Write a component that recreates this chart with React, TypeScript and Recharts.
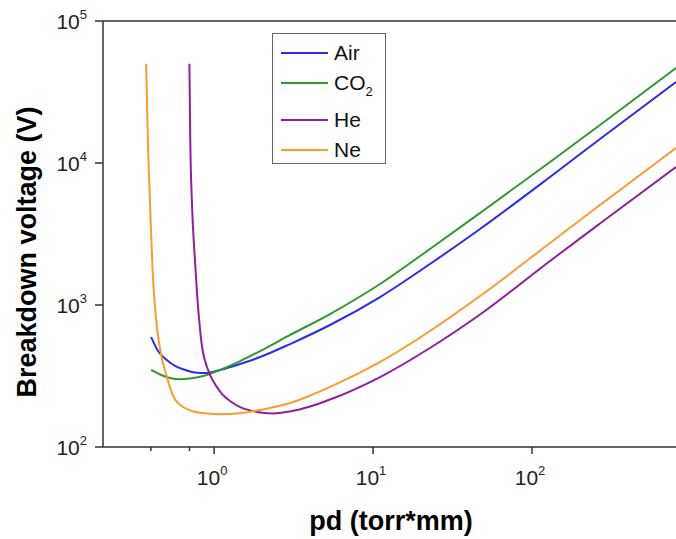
import React from "react"
import {
  Label,
  Legend,
  Line,
  LineChart,
  ReferenceLine,
  XAxis,
  YAxis
} from "recharts"

// pd (torr*mm) vs breakdown voltage (V)
const air = [
  { pd: 0.402, v: 595 },
  { pd: 0.444, v: 474 },
  { pd: 0.504, v: 410 },
  { pd: 0.568, v: 372 },
  { pd: 0.657, v: 349 },
  { pd: 0.759, v: 335 },
  { pd: 0.878, v: 332 },
  { pd: 1.09, v: 349 },
  { pd: 1.457, v: 384 },
  { pd: 1.947, v: 430 },
  { pd: 3.006, v: 531 },
  { pd: 5.36, v: 723 },
  { pd: 11.07, v: 1138 },
  { pd: 22.8, v: 1944 },
  { pd: 47.1, v: 3430 },
  { pd: 129.8, v: 7970 },
  { pd: 267.7, v: 14760 },
  { pd: 805, v: 37200 }
]

const co2 = [
  { pd: 0.402, v: 349 },
  { pd: 0.4575, v: 324 },
  { pd: 0.529, v: 306 },
  { pd: 0.611, v: 300 },
  { pd: 0.706, v: 304 },
  { pd: 0.878, v: 319 },
  { pd: 1.09, v: 349 },
  { pd: 1.457, v: 403 },
  { pd: 1.947, v: 474 },
  { pd: 3.006, v: 615 },
  { pd: 5.36, v: 864 },
  { pd: 11.07, v: 1406 },
  { pd: 22.8, v: 2480 },
  { pd: 47.1, v: 4445 },
  { pd: 129.8, v: 10160 },
  { pd: 267.7, v: 18520 },
  { pd: 805, v: 46670 }
]

const he = [
  { pd: 0.699, v: 50000 },
  { pd: 0.708, v: 14520 },
  { pd: 0.727, v: 4899 },
  { pd: 0.754, v: 2250 },
  { pd: 0.782, v: 1176 },
  { pd: 0.811, v: 723 },
  { pd: 0.84, v: 506 },
  { pd: 0.878, v: 403 },
  { pd: 0.944, v: 321 },
  { pd: 1.04, v: 265 },
  { pd: 1.123, v: 236 },
  { pd: 1.26, v: 211 },
  { pd: 1.457, v: 191 },
  { pd: 1.684, v: 181 },
  { pd: 2.004, v: 174 },
  { pd: 2.35, v: 172 },
  { pd: 3.006, v: 178 },
  { pd: 4.02, v: 193 },
  { pd: 5.36, v: 216 },
  { pd: 11.07, v: 311 },
  { pd: 22.8, v: 498 },
  { pd: 47.1, v: 857 },
  { pd: 129.8, v: 2042 },
  { pd: 267.7, v: 3750 },
  { pd: 805, v: 9370 }
]

const ne = [
  { pd: 0.3736, v: 50000 },
  { pd: 0.383, v: 14520 },
  { pd: 0.396, v: 4924 },
  { pd: 0.41, v: 1764 },
  { pd: 0.43, v: 827 },
  { pd: 0.458, v: 482 },
  { pd: 0.504, v: 313 },
  { pd: 0.555, v: 226 },
  { pd: 0.611, v: 198 },
  { pd: 0.706, v: 181 },
  { pd: 0.817, v: 174 },
  { pd: 1.09, v: 170 },
  { pd: 1.457, v: 173 },
  { pd: 1.947, v: 182 },
  { pd: 3.006, v: 204 },
  { pd: 5.36, v: 265 },
  { pd: 11.07, v: 397 },
  { pd: 22.8, v: 656 },
  { pd: 47.1, v: 1157 },
  { pd: 129.8, v: 2733 },
  { pd: 267.7, v: 5060 },
  { pd: 805, v: 12750 }
]

const xMajor = [1, 10, 100]
const xMajorExp = ["0", "1", "2"]
const xMinor = [
  0.3, 0.4, 0.5, 0.6, 0.7, 0.8, 0.9,
  2, 3, 4, 5, 6, 7, 8, 9,
  20, 30, 40, 50, 60, 70, 80, 90,
  200, 300, 400, 500, 600, 700, 800
]
const yMajor = [100, 1000, 10000, 100000]
const yMajorExp = ["2", "3", "4", "5"]
const yMinor = [
  200, 300, 400, 500, 600, 700, 800, 900,
  2000, 3000, 4000, 5000, 6000, 7000, 8000, 9000,
  20000, 30000, 40000, 50000, 60000, 70000, 80000, 90000
]

const FONT = "'Liberation Sans', Arial, sans-serif"
const AXIS = "#333"

function XTick(props: any) {
  const { x, y, payload } = props
  const i = xMajor.indexOf(payload.value)
  const major = i >= 0
  return (
    <g>
      <line x1={x} x2={x} y1={y} y2={y + (major ? 7 : 4)} stroke={AXIS} strokeWidth={1.5} />
      {major && (
        <text x={x - 2} y={y + 38} textAnchor="middle" fontSize={21} fill="#222" fontFamily={FONT}>
          10
          <tspan dy={-10} fontSize={13}>{xMajorExp[i]}</tspan>
        </text>
      )}
    </g>
  )
}

function YTick(props: any) {
  const { x, y, payload } = props
  const i = yMajor.indexOf(payload.value)
  const major = i >= 0
  return (
    <g>
      <line x1={x} x2={x - (major ? 8 : 4)} y1={y} y2={y} stroke={AXIS} strokeWidth={1.5} />
      {major && (
        <text x={x - 16} y={y + 8} textAnchor="end" fontSize={21} fill="#222" fontFamily={FONT}>
          10
          <tspan dy={-10} fontSize={13}>{yMajorExp[i]}</tspan>
        </text>
      )}
    </g>
  )
}

function LegendBox(props: any) {
  const { payload } = props
  return (
    <div
      style={{
        boxSizing: "border-box",
        width: 114,
        height: 131,
        paddingTop: 4,
        border: "1.5px solid #666",
        background: "#fff",
        fontFamily: FONT,
        fontSize: 21,
        color: "#111"
      }}>
      {(payload || []).map((entry: any, idx: number) => (
        <div
          key={entry.value}
          style={{
            height: 30,
            marginBottom: idx === 1 ? 7 : 0,
            display: "flex",
            alignItems: "center"
          }}>
          <div style={{ width: 47, height: 2, background: entry.color, marginLeft: 8, marginRight: 6 }} />
          <span style={{ lineHeight: "30px" }}>
            {entry.value === "CO2" ? (
              <>
                CO<sub style={{ fontSize: 13, verticalAlign: "-6px", lineHeight: 0 }}>2</sub>
              </>
            ) : (
              entry.value
            )}
          </span>
        </div>
      ))}
    </div>
  )
}

export default function App() {
  return (
    <div style={{ position: "absolute", left: 0, top: 0 }}>
      <LineChart
        width={676}
        height={539}
        margin={{ top: 21, right: 0, bottom: 0, left: 0 }}>
        <XAxis
          dataKey="pd"
          type="number"
          scale="log"
          domain={[0.2, 805]}
          allowDataOverflow
          ticks={[...xMinor, ...xMajor]}
          tick={<XTick />}
          tickLine={false}
          tickSize={0}
          tickMargin={0}
          height={92}
          axisLine={{ stroke: AXIS, strokeWidth: 1.5 }}>
          <Label
            content={() => (
              <text x={391} y={530} textAnchor="middle" fontSize={27} fontWeight="bold" fill="#000" fontFamily={FONT}>
                pd (torr*mm)
              </text>
            )}
          />
        </XAxis>
        <YAxis
          dataKey="v"
          type="number"
          scale="log"
          domain={[100, 100000]}
          allowDataOverflow
          ticks={[...yMinor, ...yMajor]}
          tick={<YTick />}
          tickLine={false}
          tickSize={0}
          tickMargin={0}
          width={103}
          axisLine={{ stroke: AXIS, strokeWidth: 1.5 }}>
          <Label
            content={() => (
              <text
                x={36}
                y={252}
                transform="rotate(-90 36 252)"
                textAnchor="middle"
                fontSize={27}
                fontWeight="bold"
                fill="#000"
                fontFamily={FONT}>
                Breakdown voltage (V)
              </text>
            )}
          />
        </YAxis>
        <ReferenceLine y={100000} stroke={AXIS} strokeWidth={1.5} />
        <Legend
          layout="vertical"
          align="center"
          verticalAlign="middle"
          content={<LegendBox />}
          wrapperStyle={{ position: "absolute", left: 272, top: 33, width: 114, height: 131 }}
        />
        <Line data={air} dataKey="v" name="Air" type="monotone" stroke="#2b2bf5" strokeWidth={2} dot={false} isAnimationActive={false} />
        <Line data={co2} dataKey="v" name="CO2" type="monotone" stroke="#2e9a2e" strokeWidth={2} dot={false} isAnimationActive={false} />
        <Line data={he} dataKey="v" name="He" type="monotone" stroke="#8f1f9f" strokeWidth={2} dot={false} isAnimationActive={false} />
        <Line data={ne} dataKey="v" name="Ne" type="monotone" stroke="#ff9a2e" strokeWidth={2} dot={false} isAnimationActive={false} />
      </LineChart>
    </div>
  )
}
